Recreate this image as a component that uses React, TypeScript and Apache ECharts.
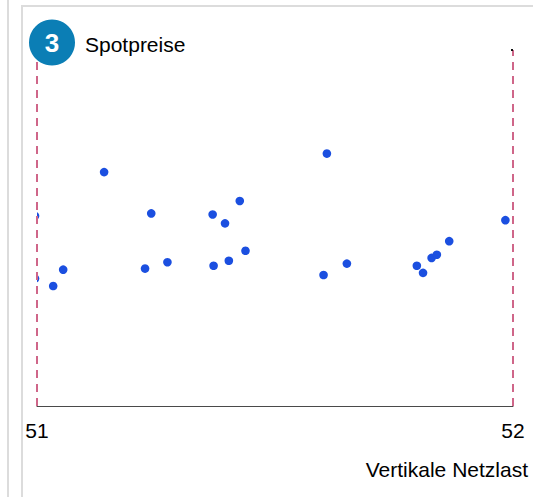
import React, { useEffect, useRef } from "react";
import * as echarts from "echarts";

// Vertikale Netzlast (x) and Spotpreis (y, relative units)
const netzlast = [
  50.9958, 50.9958, 51.034, 51.055, 51.141, 51.227, 51.24, 51.274, 51.369, 51.371,
  51.395, 51.403, 51.426, 51.438, 51.602, 51.609, 51.651, 51.798, 51.811, 51.829,
  51.84, 51.866, 51.984,
];
const spotpreise = [
  53.4, 35.8, 33.7, 38.3, 65.7, 38.6, 54.1, 40.4, 53.8, 39.4,
  51.3, 40.8, 57.6, 43.6, 36.8, 70.9, 40.0, 39.4, 37.4, 41.6,
  42.5, 46.3, 52.2,
];
const xTicks = [51, 52];
const yRange = [0, 100];
const titleText = "Spotpreise";
const badgeText = "3";
const xAxisName = "Vertikale Netzlast";

const FONT = "'Liberation Sans', Arial, Helvetica, sans-serif";

export default function App() {
  const ref = useRef<HTMLDivElement>(null);
  useEffect(() => {
    if (!ref.current) return;
    const chart = echarts.init(ref.current, undefined, { renderer: "svg" });
    const points = netzlast.map((x, i) => [x, spotpreise[i]]);
    chart.setOption({
      animation: false,
      backgroundColor: "#fff",
      textStyle: { fontFamily: FONT },
      grid: { left: 37, right: 20, top: 50, bottom: 91, containLabel: false },
      xAxis: {
        type: "value",
        min: xTicks[0],
        max: xTicks[xTicks.length - 1],
        interval: 1,
        name: xAxisName,
        nameLocation: "end",
        nameGap: 15,
        nameTextStyle: {
          fontFamily: FONT,
          fontSize: 21,
          color: "#000",
          align: "right",
          verticalAlign: "top",
          padding: [53, 0, 0, 0],
        },
        axisLine: { show: true, onZero: false, lineStyle: { color: "#4a4a4a", width: 1 } },
        axisTick: { show: false },
        axisLabel: {
          show: true,
          fontFamily: FONT,
          fontSize: 21,
          color: "#000",
          margin: 14,
        },
        splitLine: { show: false },
      },
      yAxis: {
        type: "value",
        min: yRange[0],
        max: yRange[1],
        show: false,
        splitLine: { show: false },
      },
      series: [
        {
          type: "custom",
          clip: true,
          z: 2,
          data: points,
          encode: { x: 0, y: 1 },
          renderItem: (params: any, api: any) => {
            const p = api.coord([api.value(0), api.value(1)]);
            return {
              type: "circle",
              shape: { cx: p[0], cy: p[1], r: 4.3 },
              style: { fill: "#1b4fe0" },
            };
          },
        },
        {
          type: "scatter",
          data: [],
          clip: false,
          z: 5,
          markLine: {
            silent: true,
            symbol: "none",
            label: { show: false },
            lineStyle: { color: "#cf6689", width: 2, type: [8, 6] },
            data: xTicks.map((v) => ({ xAxis: v })),
          },
        },
      ],
      graphic: [
        { type: "rect", shape: { x: 7, y: 0, width: 2, height: 497 }, style: { fill: "#dcdcdc" }, silent: true },
        { type: "rect", shape: { x: 21, y: 5, width: 2, height: 492 }, style: { fill: "#dcdcdc" }, silent: true },
        { type: "rect", shape: { x: 21, y: 5, width: 512, height: 2 }, style: { fill: "#dcdcdc" }, silent: true },
        { type: "rect", shape: { x: 511, y: 49, width: 2, height: 2 }, style: { fill: "#111" }, silent: true, z: 100 },
        {
          type: "circle",
          shape: { cx: 52, cy: 42.5, r: 23 },
          style: { fill: "#0b7eb5" },
          z: 100,
        },
        {
          type: "text",
          x: 52,
          y: 43,
          z: 101,
          style: {
            text: badgeText,
            fill: "#fff",
            font: `bold 26px ${FONT}`,
            textAlign: "center",
            textVerticalAlign: "middle",
          },
        },
        {
          type: "text",
          x: 85,
          y: 44,
          z: 101,
          style: {
            text: titleText,
            fill: "#000",
            font: `21px ${FONT}`,
            textAlign: "left",
            textVerticalAlign: "middle",
          },
        },
      ],
    });
    return () => chart.dispose();
  }, []);
  return (
    <div
      ref={ref}
      style={{ position: "fixed", left: 0, top: 0, width: 533, height: 497 }}
    />
  );
}
